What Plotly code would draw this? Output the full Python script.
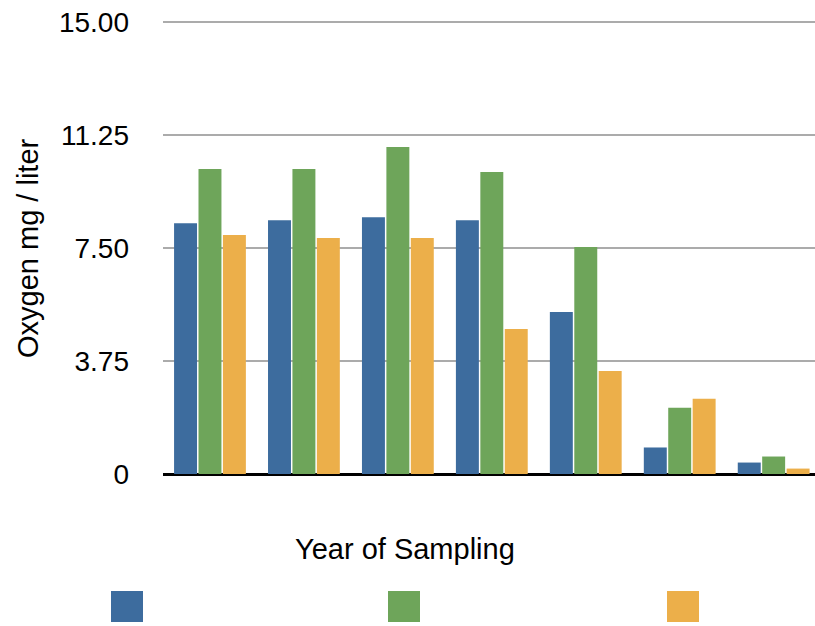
import plotly.graph_objects as go

categories = ["1", "2", "3", "4", "5", "6", "7"]
series_a = [8.32, 8.42, 8.52, 8.42, 5.38, 0.88, 0.38]
series_b = [10.12, 10.12, 10.85, 10.02, 7.53, 2.20, 0.58]
series_c = [7.93, 7.83, 7.83, 4.81, 3.42, 2.50, 0.18]
tick_vals = [0, 3.75, 7.5, 11.25, 15]
tick_text = ["0", "3.75", "7.50", "11.25", "15.00"]

colors = ["#3d6c9e", "#6ea55a", "#ecaf4a"]
FONT = "Liberation Sans, Arial, sans-serif"

fig = go.Figure()
for vals, col in zip([series_a, series_b, series_c], colors):
    fig.add_trace(go.Bar(x=categories, y=vals, marker=dict(color=col, line=dict(width=0)),
                         showlegend=False))

fig.update_layout(
    width=815, height=626,
    margin=dict(l=163, r=0, t=19, b=152),
    paper_bgcolor="white", plot_bgcolor="white",
    barmode="group", bargap=0.22, bargroupgap=0.06,
    font=dict(family=FONT, size=28, color="black"),
    xaxis=dict(type="category", showticklabels=False, showgrid=False, showline=False,
               zeroline=False, range=[-0.5, 6.44], ticks=""),
    yaxis=dict(range=[0, 15.1], tickvals=tick_vals, ticktext=tick_text,
               showgrid=True, gridcolor="#ababab", gridwidth=1.8,
               zeroline=True, zerolinecolor="black", zerolinewidth=2.5,
               showline=False, ticks="", ticklabelstandoff=33,
               tickfont=dict(size=28)),
)

H = 455.0
fig.add_annotation(text="Oxygen mg / liter", textangle=-90, xref="paper", yref="paper",
                   x=(28 - 163) / 652, y=(474 - 248) / H, xanchor="center", yanchor="middle",
                   showarrow=False, font=dict(size=29))
fig.add_annotation(text="Year of Sampling", xref="paper", yref="paper",
                   x=(405 - 163) / 652, y=(474 - 549) / H, xanchor="center", yanchor="middle",
                   showarrow=False, font=dict(size=29))

legend_x = [(111, 143), (388, 420), (667, 699)]
for (x0, x1), col in zip(legend_x, colors):
    fig.add_shape(type="rect", xref="paper", yref="paper",
                  x0=(x0 - 163) / 652, x1=(x1 - 163) / 652,
                  y0=(474 - 622) / H, y1=(474 - 591) / H,
                  fillcolor=col, line=dict(width=0))

fig.write_html("out.html", config={"displayModeBar": False},
               post_script="document.body.style.margin='0';document.body.style.overflow='hidden';")
